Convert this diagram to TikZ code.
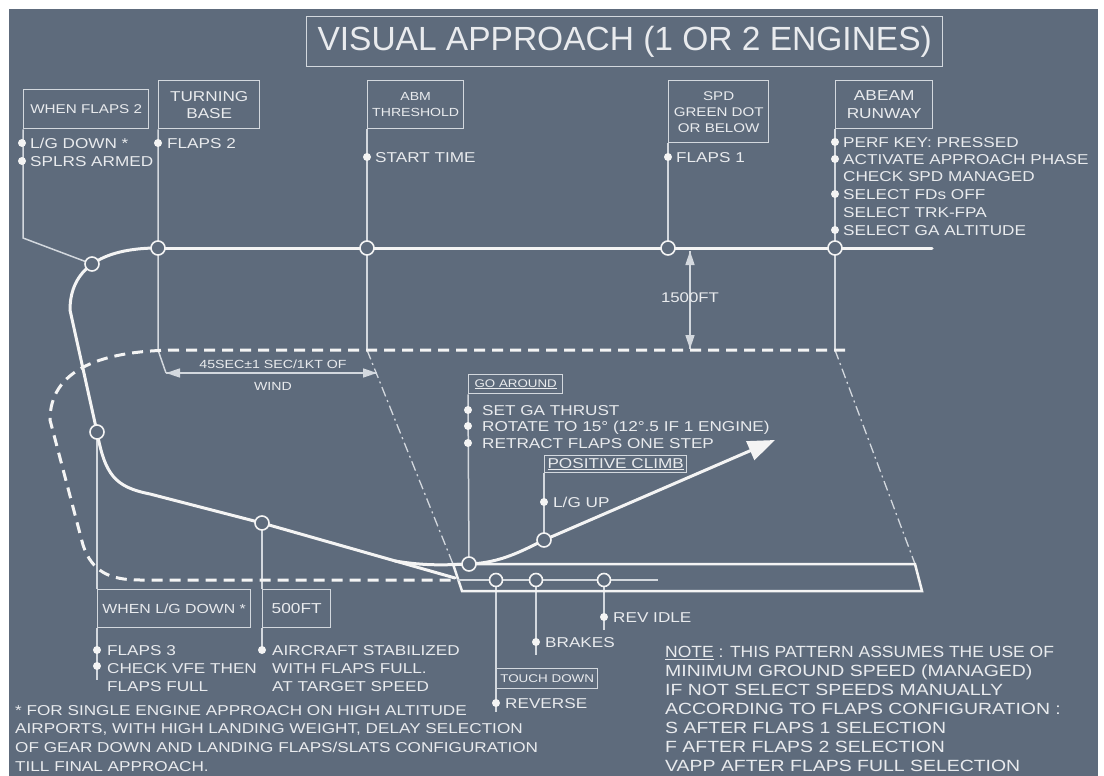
\documentclass[tikz,border=0pt]{standalone}
\usepackage{fontspec}
\setmainfont{Liberation Sans}
\newfontfamily\wide[FakeStretch=1.2]{Liberation Sans}
\usetikzlibrary{arrows.meta}
\definecolor{bg}{HTML}{5E6B7C}
\definecolor{ln}{HTML}{F4F4F4}
\definecolor{thin}{HTML}{D3D8DE}
\definecolor{tx}{HTML}{E9EBEE}
\pgfdeclarelayer{back}\pgfdeclarelayer{lines}
\pgfsetlayers{back,lines,main}
\newcommand\fs[2]{\wide\fontsize{#1}{#2}\selectfont}
\tikzset{
 lbl/.style={font=\fs{14.3}{18}, text=tx, inner sep=0, anchor=west, text height=10.3pt, text depth=0pt},
 box/.style={draw=thin, line width=1.4, text=tx, inner sep=1, align=center, anchor=north west},
 ring/.style={circle, draw=ln, line width=1.6, fill=bg, minimum size=14, inner sep=0},
 dotn/.style={circle, fill=ln, minimum size=8, inner sep=0},
 conn/.style={draw=thin, line width=1.5},
 flight/.style={draw=ln, line width=3, line cap=round},
 dashpath/.style={draw=ln, line width=3, dash pattern=on 11 off 7},
 dashdot/.style={draw=thin, line width=1.3, dash pattern=on 10 off 4 on 2 off 4},
 tri/.style={-{Triangle[length=14,width=9]}},
}
\begin{document}
\begin{tikzpicture}[x=1pt,y=-1pt]
\useasboundingbox (0,0) rectangle (1104,776);
\begin{pgfonlayer}{back}
\fill[white] (0,0) rectangle (1104,776);
\fill[bg] (9,9) rectangle (1098,776);
\end{pgfonlayer}

% title
\node[box, minimum width=636, minimum height=50, font=\fontsize{33.5}{40}\selectfont] (title) at (306,16) {VISUAL APPROACH (1 OR 2 ENGINES)};

% top boxes
\node[box, minimum width=125, minimum height=39, font=\fs{12.7}{15}] (wf2) at (23,89) {WHEN FLAPS 2};
\node[box, minimum width=101, minimum height=48, font=\fs{14.3}{17}] (tb) at (158,80) {TURNING\\BASE};
\node[box, minimum width=96, minimum height=48, font=\fs{11.75}{16}] (abm) at (367,80) {ABM\\THRESHOLD};
\node[box, minimum width=100, minimum height=62, font=\fs{12.6}{16}] (spd) at (668,80) {SPD\\GREEN DOT\\OR BELOW};
\node[box, minimum width=97, minimum height=48, font=\fs{14.4}{18}] (abr) at (835,80) {ABEAM\\RUNWAY};

% lower boxes
\node[box, minimum width=94, minimum height=19, font=\fs{11.1}{13}] (gab) at (468,374) {\underline{GO AROUND}};
\node[box, minimum width=142, minimum height=17, font=\fs{14.3}{17}] (pc) at (544,455) {\underline{POSITIVE CLIMB}};
\node[box, minimum width=101, minimum height=20, font=\fs{11.2}{13}] (td) at (496,668) {TOUCH DOWN};
\node[box, minimum width=153, minimum height=38, font=\fs{13.2}{16}] (lgd) at (97,589) {WHEN L/G DOWN *};
\node[box, minimum width=68, minimum height=38, font=\fs{14.4}{17}] (f500) at (262,589) {500FT};

% rings
\node[ring] (c1) at (92,264) {};
\node[ring] (c2) at (158,248) {};
\node[ring] (c3) at (367,248) {};
\node[ring] (c4) at (668,248) {};
\node[ring] (c5) at (835,248) {};
\node[ring] (c6) at (97,432) {};
\node[ring] (c7) at (262,523) {};
\node[ring] (c8) at (469,564) {};
\node[ring] (c9) at (544,540) {};
\node[ring, minimum size=13] (c10) at (496,580) {};
\node[ring, minimum size=13] (c11) at (536,580) {};
\node[ring, minimum size=13] (c12) at (604,580) {};

% coordinates
\coordinate (dwE) at (932,248);
\coordinate (wfK) at (23,238);
\coordinate (tbB) at (158,350);
\coordinate (aL) at (166,373);
\coordinate (aR) at (377,373);
\coordinate (abmB) at (367,350);
\coordinate (abrB) at (835,350);
\coordinate (rwTL) at (453,564);
\coordinate (rwTR) at (915,564);
\coordinate (rwBR) at (922,591);
\coordinate (rwBL) at (462,591);
\coordinate (clS) at (457,580);
\coordinate (clE) at (658,580);
\coordinate (dashE) at (845,350);
\coordinate (thr) at (455,578);
\coordinate (ga0) at (395,561);
\coordinate (gaTip) at (775,440);
\coordinate (ftTop) at (690,251);
\coordinate (ftBot) at (690,349);
\coordinate (lgE) at (97,680);
\coordinate (f5E) at (262,652);
\coordinate (revE) at (496,712);
\coordinate (brE) at (536,655);
\coordinate (riE) at (604,630);

% labels with dots
\node[dotn] (d1) at (22,143) {}; \node[lbl] (t1) at (30,143) {L/G DOWN *};
\node[dotn] (d2) at (22,161) {}; \node[lbl] (t2) at (30,161) {SPLRS ARMED};
\node[dotn] (d3) at (158,143) {}; \node[lbl] (t3) at (167,143) {FLAPS 2};
\node[dotn] (d4) at (367,157) {}; \node[lbl] (t4) at (375,157) {START TIME};
\node[dotn] (d5) at (668,157) {}; \node[lbl] (t5) at (676,157) {FLAPS 1};
\node[dotn] (d6) at (835,142) {}; \node[lbl] (t6) at (843,142) {PERF KEY: PRESSED};
\node[dotn] (d7) at (835,159) {}; \node[lbl] (t7) at (843,159) {ACTIVATE APPROACH PHASE};
\node[lbl] (t8) at (843,176) {CHECK SPD MANAGED};
\node[dotn] (d9) at (835,194) {}; \node[lbl] (t9) at (843,194) {SELECT FDs OFF};
\node[lbl] (t10) at (843,212) {SELECT TRK-FPA};
\node[dotn] (d11) at (835,230) {}; \node[lbl] (t11) at (843,230) {SELECT GA ALTITUDE};

\node[dotn] (d12) at (468,410) {}; \node[lbl] (t12) at (482,410) {SET GA THRUST};
\node[dotn] (d13) at (468,426) {}; \node[lbl] (t13) at (482,426) {ROTATE TO 15° (12°.5 IF 1 ENGINE)};
\node[dotn] (d14) at (468,443) {}; \node[lbl] (t14) at (482,443) {RETRACT FLAPS ONE STEP};
\node[dotn] (d15) at (544,502) {}; \node[lbl] (t15) at (553,502) {L/G UP};

\node[dotn] (d16) at (97,650) {}; \node[lbl] (t16) at (107,650) {FLAPS 3};
\node[dotn] (d17) at (97,666) {}; \node[lbl] (t17) at (107,668) {CHECK VFE THEN};
\node[lbl] (t18) at (107,686) {FLAPS FULL};
\node[dotn] (d19) at (262,650) {}; \node[lbl] (t19) at (272,650) {AIRCRAFT STABILIZED};
\node[lbl] (t20) at (272,668) {WITH FLAPS FULL.};
\node[lbl] (t21) at (272,686) {AT TARGET SPEED};

\node[dotn] (d22) at (604,617) {}; \node[lbl] (t22) at (613,617) {REV IDLE};
\node[dotn] (d23) at (536,642) {}; \node[lbl] (t23) at (545,642) {BRAKES};
\node[dotn] (d24) at (496,703) {}; \node[lbl] (t24) at (505,703) {REVERSE};

\node[font=\fs{11.8}{14}, text=tx, inner sep=0] (w1) at (273,364) {45SEC±1 SEC/1KT OF};
\node[font=\fs{11.8}{14}, text=tx, inner sep=0] (w2) at (273,386) {WIND};
\node[font=\fs{14}{17}, text=tx, inner sep=0] (ft) at (690,298) {1500FT};

\node[anchor=north west, align=left, font=\fs{16.2}{19}, text=tx, inner sep=0] (note) at (665,646)
 {\scalebox{0.9}[1]{\underline{NOTE} : THIS PATTERN ASSUMES THE USE OF}\\
  MINIMUM GROUND SPEED (MANAGED)\\
  IF NOT SELECT SPEEDS MANUALLY\\
  ACCORDING TO FLAPS CONFIGURATION :\\
  S AFTER FLAPS 1 SELECTION\\
  F AFTER FLAPS 2 SELECTION\\
  VAPP AFTER FLAPS FULL SELECTION};
\node[anchor=north west, align=left, font=\fs{14.3}{18.7}, text=tx, inner sep=0] (foot) at (15,705)
 {* FOR SINGLE ENGINE APPROACH ON HIGH ALTITUDE\\
  AIRPORTS, WITH HIGH LANDING WEIGHT, DELAY SELECTION\\
  OF GEAR DOWN AND LANDING FLAPS/SLATS CONFIGURATION\\
  TILL FINAL APPROACH.};

\begin{pgfonlayer}{lines}
% thin connectors
\draw[conn] (wf2.south west) -- (wfK) -- (c1.center);
\draw[conn] (tb.south west) -- (c2.center) -- (tbB) -- (aL);
\draw[conn] (abm.south west) -- (c3.center) -- (abmB);
\draw[conn] (spd.south west) -- (c4.center);
\draw[conn] (abr.south west) -- (c5.center) -- (abrB);
\draw[dashdot] (abmB) -- (rwTL);
\draw[dashdot] (abrB) -- (rwTR);
\draw[conn] (c6.center) -- (lgd.north west);
\draw[conn] (lgd.south west) -- (lgE);
\draw[conn] (c7.center) -- (f500.north west);
\draw[conn] (f500.south west) -- (f5E);
\draw[conn] (c8.center) -- (gab.south west);
\draw[conn] (c9.center) -- (pc.south west);
\draw[conn] (c10.center) -- (revE);
\draw[conn] (c11.center) -- (brE);
\draw[conn] (c12.center) -- (riE);
% dimension arrows
\draw[conn, tri] (aL) -- (aR);
\draw[conn, tri] (aR) -- (aL);
\draw[conn, tri] (ftBot) -- (ftTop);
\draw[conn, tri] (ftTop) -- (ftBot);
% flight paths
\draw[flight] (c2.center) -- (dwE);
\draw[flight] (c2.center) .. controls (100,248) and (70,270) .. (70,310) -- (c6.center)
  .. controls (105,475) and (115,487) .. (150,494) -- (c7.center) -- (thr);
\draw[flight, -{Triangle[length=27,width=20]}] (ga0) .. controls (425,566) and (445,565) .. (c8.center)
  .. controls (500,563) and (522,551) .. (c9.center) -- (gaTip);
\draw[dashpath] (dashE) -- (180,350) .. controls (100,350) and (50,370) .. (50,420) -- (83,545)
  .. controls (92,572) and (110,580) .. (140,580) -- (clS);
% runway
\draw[draw=ln, line width=2.5, line join=miter] (rwTL) -- (rwTR) -- (rwBR) -- (rwBL) -- cycle;
\draw[draw=thin, line width=2.2] (clS) -- (clE);
\end{pgfonlayer}
\end{tikzpicture}
\end{document}
